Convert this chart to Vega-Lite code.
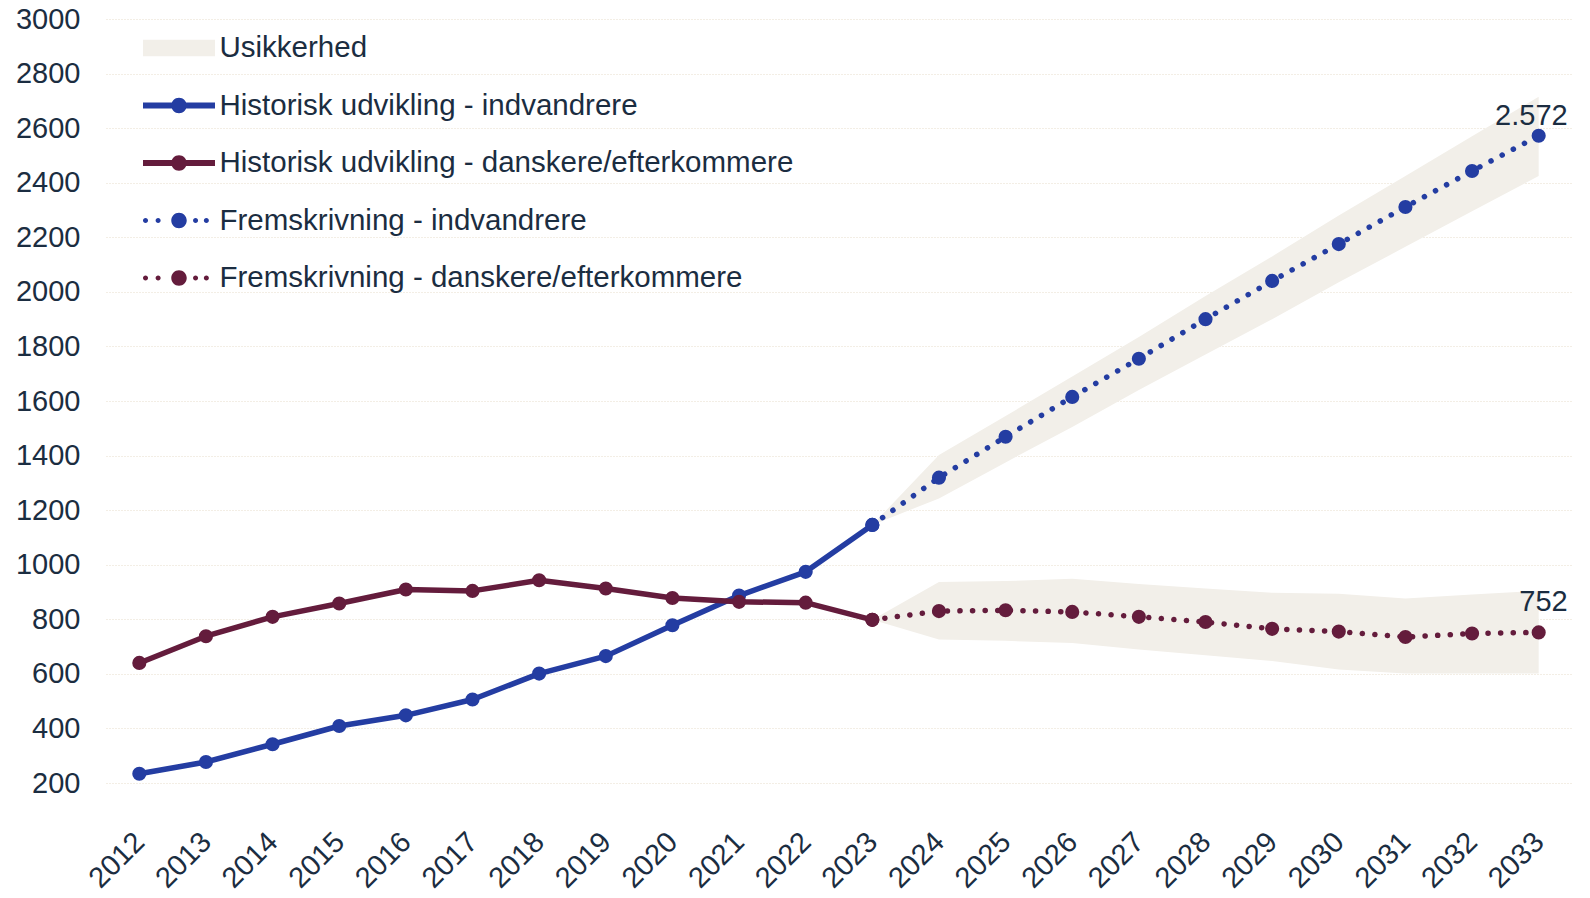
{
  "$schema": "https://vega.github.io/schema/vega-lite/v6.json",
  "width": 1466,
  "height": 764,
  "autosize": {"type": "none"},
  "padding": {"left": 106, "top": 19, "right": 18, "bottom": 115},
  "background": "white",
  "config": {
    "font": "Liberation Sans",
    "view": {"stroke": null},
    "locale": {"number": {"decimal": ",", "thousands": ".", "grouping": [3], "currency": ["", " kr."]}}
  },
  "datasets": {
    "lines": [
      {"year": "2012", "series": "Historisk udvikling - indvandrere", "value": 234},
      {"year": "2013", "series": "Historisk udvikling - indvandrere", "value": 277},
      {"year": "2014", "series": "Historisk udvikling - indvandrere", "value": 342},
      {"year": "2015", "series": "Historisk udvikling - indvandrere", "value": 409},
      {"year": "2016", "series": "Historisk udvikling - indvandrere", "value": 448},
      {"year": "2017", "series": "Historisk udvikling - indvandrere", "value": 506},
      {"year": "2018", "series": "Historisk udvikling - indvandrere", "value": 601},
      {"year": "2019", "series": "Historisk udvikling - indvandrere", "value": 665},
      {"year": "2020", "series": "Historisk udvikling - indvandrere", "value": 778},
      {"year": "2021", "series": "Historisk udvikling - indvandrere", "value": 887},
      {"year": "2022", "series": "Historisk udvikling - indvandrere", "value": 974},
      {"year": "2023", "series": "Historisk udvikling - indvandrere", "value": 1146},
      {"year": "2012", "series": "Historisk udvikling - danskere/efterkommere", "value": 640},
      {"year": "2013", "series": "Historisk udvikling - danskere/efterkommere", "value": 738},
      {"year": "2014", "series": "Historisk udvikling - danskere/efterkommere", "value": 809},
      {"year": "2015", "series": "Historisk udvikling - danskere/efterkommere", "value": 858},
      {"year": "2016", "series": "Historisk udvikling - danskere/efterkommere", "value": 909},
      {"year": "2017", "series": "Historisk udvikling - danskere/efterkommere", "value": 904},
      {"year": "2018", "series": "Historisk udvikling - danskere/efterkommere", "value": 943},
      {"year": "2019", "series": "Historisk udvikling - danskere/efterkommere", "value": 913},
      {"year": "2020", "series": "Historisk udvikling - danskere/efterkommere", "value": 878},
      {"year": "2021", "series": "Historisk udvikling - danskere/efterkommere", "value": 864},
      {"year": "2022", "series": "Historisk udvikling - danskere/efterkommere", "value": 861},
      {"year": "2023", "series": "Historisk udvikling - danskere/efterkommere", "value": 798},
      {"year": "2023", "series": "Fremskrivning - indvandrere", "value": 1146},
      {"year": "2024", "series": "Fremskrivning - indvandrere", "value": 1319},
      {"year": "2025", "series": "Fremskrivning - indvandrere", "value": 1469},
      {"year": "2026", "series": "Fremskrivning - indvandrere", "value": 1615},
      {"year": "2027", "series": "Fremskrivning - indvandrere", "value": 1755},
      {"year": "2028", "series": "Fremskrivning - indvandrere", "value": 1900},
      {"year": "2029", "series": "Fremskrivning - indvandrere", "value": 2040},
      {"year": "2030", "series": "Fremskrivning - indvandrere", "value": 2175},
      {"year": "2031", "series": "Fremskrivning - indvandrere", "value": 2311},
      {"year": "2032", "series": "Fremskrivning - indvandrere", "value": 2443},
      {"year": "2033", "series": "Fremskrivning - indvandrere", "value": 2572},
      {"year": "2023", "series": "Fremskrivning - danskere/efterkommere", "value": 798},
      {"year": "2024", "series": "Fremskrivning - danskere/efterkommere", "value": 830},
      {"year": "2025", "series": "Fremskrivning - danskere/efterkommere", "value": 833},
      {"year": "2026", "series": "Fremskrivning - danskere/efterkommere", "value": 827},
      {"year": "2027", "series": "Fremskrivning - danskere/efterkommere", "value": 809},
      {"year": "2028", "series": "Fremskrivning - danskere/efterkommere", "value": 790},
      {"year": "2029", "series": "Fremskrivning - danskere/efterkommere", "value": 765},
      {"year": "2030", "series": "Fremskrivning - danskere/efterkommere", "value": 755},
      {"year": "2031", "series": "Fremskrivning - danskere/efterkommere", "value": 735},
      {"year": "2032", "series": "Fremskrivning - danskere/efterkommere", "value": 748},
      {"year": "2033", "series": "Fremskrivning - danskere/efterkommere", "value": 752}
    ],
    "band": [
      {"year": "2023", "grp": "indvandrere", "series": "Usikkerhed", "lo": 1146, "hi": 1146},
      {"year": "2024", "grp": "indvandrere", "series": "Usikkerhed", "lo": 1243, "hi": 1402},
      {"year": "2025", "grp": "indvandrere", "series": "Usikkerhed", "lo": 1375, "hi": 1545},
      {"year": "2026", "grp": "indvandrere", "series": "Usikkerhed", "lo": 1505, "hi": 1690},
      {"year": "2027", "grp": "indvandrere", "series": "Usikkerhed", "lo": 1640, "hi": 1835},
      {"year": "2028", "grp": "indvandrere", "series": "Usikkerhed", "lo": 1770, "hi": 1985},
      {"year": "2029", "grp": "indvandrere", "series": "Usikkerhed", "lo": 1900, "hi": 2130},
      {"year": "2030", "grp": "indvandrere", "series": "Usikkerhed", "lo": 2035, "hi": 2280},
      {"year": "2031", "grp": "indvandrere", "series": "Usikkerhed", "lo": 2165, "hi": 2425},
      {"year": "2032", "grp": "indvandrere", "series": "Usikkerhed", "lo": 2295, "hi": 2570},
      {"year": "2033", "grp": "indvandrere", "series": "Usikkerhed", "lo": 2425, "hi": 2715},
      {"year": "2023", "grp": "danskere", "series": "Usikkerhed", "lo": 798, "hi": 798},
      {"year": "2024", "grp": "danskere", "series": "Usikkerhed", "lo": 726, "hi": 937},
      {"year": "2025", "grp": "danskere", "series": "Usikkerhed", "lo": 721, "hi": 940},
      {"year": "2026", "grp": "danskere", "series": "Usikkerhed", "lo": 713, "hi": 949},
      {"year": "2027", "grp": "danskere", "series": "Usikkerhed", "lo": 689, "hi": 929},
      {"year": "2028", "grp": "danskere", "series": "Usikkerhed", "lo": 668, "hi": 913},
      {"year": "2029", "grp": "danskere", "series": "Usikkerhed", "lo": 647, "hi": 897},
      {"year": "2030", "grp": "danskere", "series": "Usikkerhed", "lo": 616, "hi": 894},
      {"year": "2031", "grp": "danskere", "series": "Usikkerhed", "lo": 601, "hi": 876},
      {"year": "2032", "grp": "danskere", "series": "Usikkerhed", "lo": 601, "hi": 891},
      {"year": "2033", "grp": "danskere", "series": "Usikkerhed", "lo": 601, "hi": 904}
    ]
  },
  "encoding": {
    "x": {
      "field": "year", "type": "ordinal",
      "scale": {"type": "point", "padding": 0.5},
      "axis": {
        "title": null, "domain": false, "ticks": false, "tickSize": 0, "grid": false,
        "labelAngle": -45, "labelAlign": "right", "labelBaseline": "middle",
        "labelPadding": 54, "labelOffset": 0,
        "labelFontSize": 29, "labelColor": "#1B2D41", "labelFont": "Liberation Sans"
      }
    }
  },
  "layer": [
    {
      "data": {"name": "band"},
      "mark": {"type": "area", "opacity": 1},
      "encoding": {
        "y": {
          "field": "lo", "type": "quantitative",
          "scale": {"domain": [200, 3000], "nice": false, "zero": false},
          "axis": {
            "title": null, "domain": false, "ticks": false, "tickSize": 0,
            "values": [200, 400, 600, 800, 1000, 1200, 1400, 1600, 1800, 2000, 2200, 2400, 2600, 2800, 3000],
            "format": "d", "labelPadding": 26,
            "labelFontSize": 29, "labelColor": "#1B2D41", "labelFont": "Liberation Sans",
            "grid": true, "gridColor": "#E6DCCB", "gridDash": [1, 2], "gridWidth": 1
          }
        },
        "y2": {"field": "hi"},
        "detail": {"field": "grp"},
        "color": {
          "field": "series", "type": "nominal",
          "scale": {
            "domain": ["Usikkerhed", "Historisk udvikling - indvandrere", "Historisk udvikling - danskere/efterkommere", "Fremskrivning - indvandrere", "Fremskrivning - danskere/efterkommere"],
            "range": ["#F2EFE9", "#243DA2", "#641C3C", "#243DA2", "#641C3C"]
          },
          "legend": {
            "title": null,
            "orient": "none", "legendX": 37, "legendY": -7,
            "padding": 0, "rowPadding": 6.5, "labelOffset": 4.5,
            "labelFontSize": 29.5, "labelColor": "#1B2D41", "labelFont": "Liberation Sans", "labelLimit": 1200,
            "symbolSize": 5184,
            "symbolStrokeWidth": 0,
            "symbolOpacity": 1,
            "symbolType": {"expr": "datum.value === 'Usikkerhed' ? 'M-1,-0.23H1V0.23H-1Z' : (indexof(datum.value, 'Historisk') === 0 ? 'M-1,-0.085H1V0.085H-1Z M0.215,0A0.215,0.215,0,1,1,-0.215,0A0.215,0.215,0,1,1,0.215,0Z' : 'M-0.86,0A0.07,0.07,0,1,1,-1,0A0.07,0.07,0,1,1,-0.86,0Z M-0.51,0A0.07,0.07,0,1,1,-0.65,0A0.07,0.07,0,1,1,-0.51,0Z M0.215,0A0.215,0.215,0,1,1,-0.215,0A0.215,0.215,0,1,1,0.215,0Z M0.53,0A0.07,0.07,0,1,1,0.39,0A0.07,0.07,0,1,1,0.53,0Z M0.83,0A0.07,0.07,0,1,1,0.69,0A0.07,0.07,0,1,1,0.83,0Z')"}
          }
        }
      }
    },
    {
      "data": {"name": "lines"},
      "transform": [{"filter": "indexof(datum.series, 'Historisk') === 0"}],
      "mark": {"type": "line", "strokeWidth": 5.5, "strokeJoin": "round", "strokeCap": "round"},
      "encoding": {
        "y": {"field": "value", "type": "quantitative"},
        "color": {"field": "series", "type": "nominal"}
      }
    },
    {
      "data": {"name": "lines"},
      "transform": [{"filter": "indexof(datum.series, 'Fremskrivning') === 0"}],
      "mark": {"type": "line", "strokeWidth": 5.5, "strokeCap": "round", "strokeDash": [0.1, 12.5]},
      "encoding": {
        "y": {"field": "value", "type": "quantitative"},
        "color": {"field": "series", "type": "nominal"}
      }
    },
    {
      "data": {"name": "lines"},
      "mark": {"type": "point", "filled": true, "size": 200, "opacity": 1, "shape": "circle"},
      "encoding": {
        "y": {"field": "value", "type": "quantitative"},
        "color": {"field": "series", "type": "nominal"}
      }
    },
    {
      "data": {"name": "lines"},
      "transform": [{"filter": "datum.series === 'Fremskrivning - indvandrere' && datum.year === '2033'"}],
      "mark": {"type": "text", "align": "right", "baseline": "alphabetic", "dx": 29, "dy": -11, "fontSize": 29, "color": "#1B2D41", "font": "Liberation Sans"},
      "encoding": {
        "y": {"field": "value", "type": "quantitative"},
        "text": {"field": "value", "type": "quantitative", "format": ",d"}
      }
    },
    {
      "data": {"name": "lines"},
      "transform": [{"filter": "datum.series === 'Fremskrivning - danskere/efterkommere' && datum.year === '2033'"}],
      "mark": {"type": "text", "align": "right", "baseline": "alphabetic", "dx": 29, "dy": -21.5, "fontSize": 29, "color": "#1B2D41", "font": "Liberation Sans"},
      "encoding": {
        "y": {"field": "value", "type": "quantitative"},
        "text": {"field": "value", "type": "quantitative", "format": ",d"}
      }
    }
  ]
}
